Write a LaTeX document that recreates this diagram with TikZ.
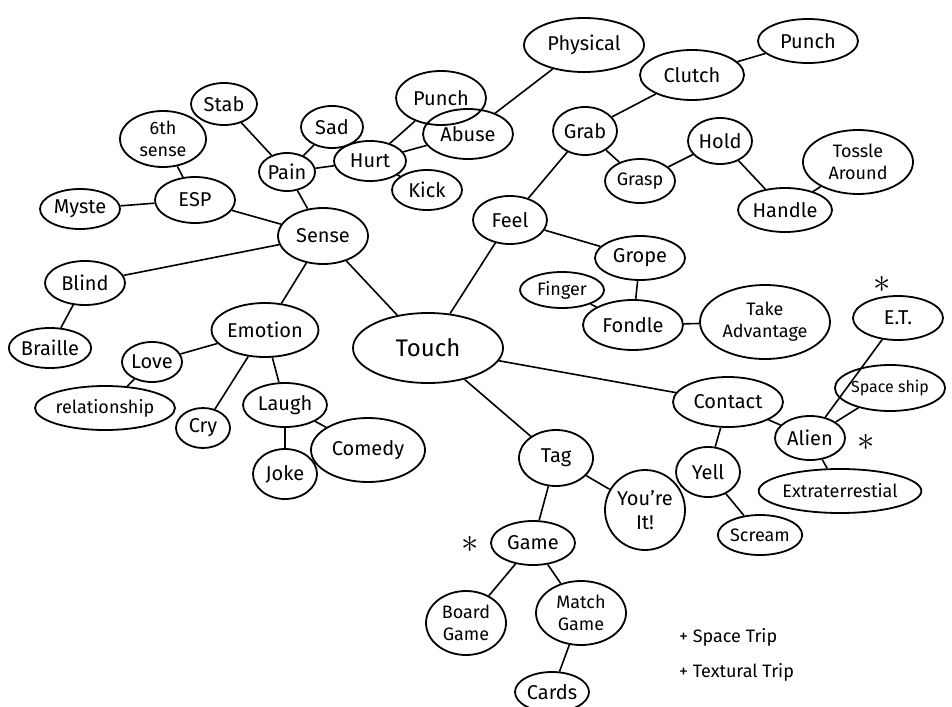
\documentclass[tikz,border=0pt]{standalone}
\usepackage{fontspec}
\setmainfont{Fira Sans}
\usetikzlibrary{shapes.geometric}

\tikzset{
  bub/.style={ellipse, draw, line width=0.9pt, inner sep=0pt, align=center, font=\normalsize},
  small bub/.style={bub, font=\small},
  link/.style={line width=0.8pt},
  note/.style={anchor=west, font=\small},
  star/.style={font=\LARGE, inner sep=0pt}
}

\begin{document}
\begin{tikzpicture}[x=0.5pt, y=-0.5pt]

  \useasboundingbox[fill=white] (0,0) rectangle (952,706);

  %% centre
  \node[bub, minimum width=75pt, minimum height=35pt, font=\large] (touch) at (428,348) {Touch};

  %% sense branch
  \node[bub, minimum width=45pt, minimum height=28pt] (sense) at (323,236) {Sense};
  \node[bub, minimum width=40pt, minimum height=23pt] (esp) at (195,200) {ESP};
  \node[small bub, minimum width=43pt, minimum height=28pt] (sixth) at (163,139) {6th\\sense};
  \node[bub, minimum width=40pt, minimum height=20pt] (myste) at (80,209) {Myste};
  \node[bub, minimum width=40pt, minimum height=22pt] (blind) at (85,283) {Blind};
  \node[bub, minimum width=40pt, minimum height=20pt] (braille) at (50,348) {Braille};
  \node[bub, minimum width=33pt, minimum height=21pt] (stab) at (224,104) {Stab};
  \node[bub, minimum width=28pt, minimum height=19pt] (pain) at (287,172) {Pain};
  \node[bub, minimum width=31pt, minimum height=21pt] (sad) at (332,127) {Sad};
  \node[bub, minimum width=36pt, minimum height=20pt] (hurt) at (370,161) {Hurt};
  \node[bub, minimum width=45pt, minimum height=27pt] (punchA) at (441,98) {Punch};
  \node[bub, minimum width=45pt, minimum height=25pt] (abuse) at (468,134) {Abuse};
  \node[bub, minimum width=35pt, minimum height=20pt] (kick) at (427,190) {Kick};
  \node[bub, minimum width=60pt, minimum height=27pt] (physical) at (584,45) {Physical};

  %% emotion
  \node[bub, minimum width=50pt, minimum height=27pt] (emotion) at (265,330) {Emotion};
  \node[bub, minimum width=30pt, minimum height=20pt] (love) at (152,362) {Love};
  \node[small bub, minimum width=70pt, minimum height=22pt] (relation) at (105,408) {relationship};
  \node[bub, minimum width=27pt, minimum height=20pt] (cry) at (203,428) {Cry};
  \node[bub, minimum width=42pt, minimum height=22pt] (laugh) at (285,405) {Laugh};
  \node[bub, minimum width=32pt, minimum height=25pt] (joke) at (285,474) {Joke};
  \node[bub, minimum width=57pt, minimum height=32pt] (comedy) at (368,450) {Comedy};

  %% feel branch
  \node[bub, minimum width=37pt, minimum height=24pt] (feel) at (510,220) {Feel};
  \node[bub, minimum width=32pt, minimum height=24pt] (grab) at (585,131) {Grab};
  \node[bub, minimum width=52pt, minimum height=25pt] (clutch) at (692,75) {Clutch};
  \node[bub, minimum width=50pt, minimum height=22pt] (punchB) at (808,41) {Punch};
  \node[small bub, minimum width=35pt, minimum height=22pt] (grasp) at (640,181) {Grasp};
  \node[bub, minimum width=32pt, minimum height=23pt] (hold) at (720,141) {Hold};
  \node[bub, minimum width=47pt, minimum height=22pt] (handle) at (785,210) {Handle};
  \node[small bub, minimum width=55pt, minimum height=32pt] (tossle) at (858,162) {Tossle\\Around};
  \node[bub, minimum width=45pt, minimum height=22pt] (grope) at (640,258) {Grope};
  \node[small bub, minimum width=42pt, minimum height=18pt] (finger) at (562,290) {Finger};
  \node[bub, minimum width=50pt, minimum height=25pt] (fondle) at (633,325) {Fondle};
  \node[small bub, minimum width=65pt, minimum height=37pt] (takeadv) at (765,322) {Take\\Advantage};

  %% contact branch
  \node[bub, minimum width=55pt, minimum height=25pt] (contact) at (728,402) {Contact};
  \node[bub, minimum width=35pt, minimum height=22pt] (alien) at (810,438) {Alien};
  \node[bub, minimum width=45pt, minimum height=22pt] (et) at (898,318) {E.T.};
  \node[bub, font=\footnotesize, minimum width=55pt, minimum height=23pt] (ship) at (890,388) {Space ship};
  \node[small bub, minimum width=77pt, minimum height=22pt] (extra) at (840,491) {Extraterrestial};
  \node[bub, minimum width=32pt, minimum height=25pt] (yell) at (708,472) {Yell};
  \node[small bub, minimum width=37pt, minimum height=20pt] (scream) at (760,535) {Scream};

  %% tag branch
  \node[bub, minimum width=37pt, minimum height=28pt] (tag) at (556,458) {Tag};
  \node[bub, minimum width=40pt, minimum height=40pt] (itnode) at (645,510) {You're\\It!};
  \node[bub, minimum width=42pt, minimum height=22pt] (game) at (533,543) {Game};
  \node[small bub, minimum width=40pt, minimum height=32pt] (board) at (466,623) {Board\\Game};
  \node[small bub, minimum width=45pt, minimum height=32pt] (match) at (581,613) {Match\\Game};
  \node[bub, minimum width=37pt, minimum height=20pt] (cards) at (552,692) {Cards};

  %% asterisks and notes
  \node[star] (starET) at (882,284) {$\ast$};
  \node[star] (starAlien) at (866,442) {$\ast$};
  \node[star] (starGame) at (470,544) {$\ast$};
  \node[note] (trip1) at (672,637) {+ Space Trip};
  \node[note] (trip2) at (672,672) {+ Textural Trip};

  %% links
  \draw[link] (touch) -- (sense);
  \draw[link] (touch) -- (feel);
  \draw[link] (touch) -- (contact);
  \draw[link] (touch) -- (tag);

  \draw[link] (sense) -- (esp);
  \draw[link] (sense) -- (blind);
  \draw[link] (sense) -- (pain);
  \draw[link] (sense) -- (emotion);
  \draw[link] (esp) -- (sixth);
  \draw[link] (esp) -- (myste);
  \draw[link] (blind) -- (braille);
  \draw[link] (pain) -- (stab);
  \draw[link] (pain) -- (sad);
  \draw[link] (pain) -- (hurt);
  \draw[link] (hurt) -- (punchA);
  \draw[link] (hurt) -- (abuse);
  \draw[link] (hurt) -- (kick);
  \draw[link] (abuse) -- (physical);

  \draw[link] (emotion) -- (love);
  \draw[link] (emotion) -- (cry);
  \draw[link] (emotion) -- (laugh);
  \draw[link] (love) -- (relation);
  \draw[link] (laugh) -- (joke);
  \draw[link] (laugh) -- (comedy);

  \draw[link] (feel) -- (grab);
  \draw[link] (feel) -- (grope);
  \draw[link] (grab) -- (clutch);
  \draw[link] (grab) -- (grasp);
  \draw[link] (clutch) -- (punchB);
  \draw[link] (grasp) -- (hold);
  \draw[link] (hold) -- (handle);
  \draw[link] (handle) -- (tossle);
  \draw[link] (grope) -- (fondle);
  \draw[link] (fondle) -- (finger);
  \draw[link] (fondle) -- (takeadv);

  \draw[link] (contact) -- (yell);
  \draw[link] (contact) -- (alien);
  \draw[link] (alien) -- (et);
  \draw[link] (alien) -- (ship);
  \draw[link] (alien) -- (extra);
  \draw[link] (yell) -- (scream);

  \draw[link] (tag) -- (itnode);
  \draw[link] (tag) -- (game);
  \draw[link] (game) -- (board);
  \draw[link] (game) -- (match);
  \draw[link] (match) -- (cards);

\end{tikzpicture}
\end{document}
